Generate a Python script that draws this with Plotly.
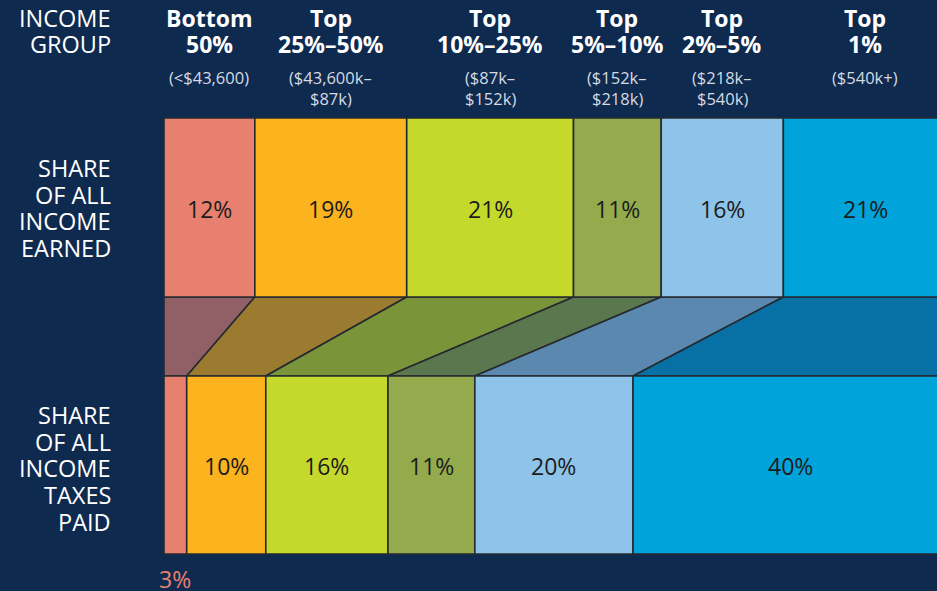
import plotly.graph_objects as go
import numpy as np

# ---- data ----
group_line1 = ["Bottom", "Top", "Top", "Top", "Top", "Top"]
group_line2 = ["50%", "25%–50%", "10%–25%", "5%–10%", "2%–5%", "1%"]
group_ranges = [["(<$43,600)"], ["($43,600k–", "$87k)"], ["($87k–", "$152k)"],
                ["($152k–", "$218k)"], ["($218k–", "$540k)"], ["($540k+)"]]
income_share = [11.6, 19.4, 21.3, 11.2, 15.6, 20.9]   # share of all income earned (%)
tax_share = [2.9, 10.1, 15.6, 11.1, 20.2, 40.1]       # share of all income taxes paid (%)
row_income_label = ["SHARE", "OF ALL", "INCOME", "EARNED"]
row_tax_label = ["SHARE", "OF ALL", "INCOME", "TAXES", "PAID"]
header_label = ["INCOME", "GROUP"]

# ---- style ----
BG = "#0F2A4F"
bar_colors = ["#E8806F", "#FBB31E", "#C5D92D", "#93AB4D", "#8EC4EA", "#00A3DA"]
link_colors = ["#916066", "#9A7B2F", "#7A943A", "#5B774D", "#5B88AE", "#0771A5"]
EDGE = "#262a30"
FONT = "Open Sans"

W, H = 937, 591
X0_PX, PX_PER_PCT = 164, 7.83
TOP_Y0, TOP_Y1 = 118, 297
BOT_Y0, BOT_Y1 = 376, 554

inc_cum = np.concatenate([[0], np.cumsum(income_share)])
tax_cum = np.concatenate([[0], np.cumsum(tax_share)])

fig = go.Figure()

def poly(xs, ys, color):
    fig.add_trace(go.Scatter(x=xs, y=ys, mode="lines", fill="toself", fillcolor=color,
                             line=dict(color=EDGE, width=1.6), hoverinfo="skip",
                             showlegend=False))

# connectors
for i in range(len(income_share)):
    xs = [inc_cum[i], inc_cum[i + 1], tax_cum[i + 1], tax_cum[i], inc_cum[i]]
    ys = [TOP_Y1, TOP_Y1, BOT_Y0, BOT_Y0, TOP_Y1]
    poly(xs, ys, link_colors[i])

# bars
for i in range(len(income_share)):
    a, b = inc_cum[i], inc_cum[i + 1]
    poly([a, b, b, a, a], [TOP_Y0, TOP_Y0, TOP_Y1, TOP_Y1, TOP_Y0], bar_colors[i])
    a, b = tax_cum[i], tax_cum[i + 1]
    poly([a, b, b, a, a], [BOT_Y0, BOT_Y0, BOT_Y1, BOT_Y1, BOT_Y0], bar_colors[i])

ann = []
def text(x, y, s, size, color, bold=False, xref="x", xanchor="center"):
    if bold:
        s = "<b>" + s + "</b>"
    ann.append(dict(x=x, y=y, xref=xref, yref="y", text=s, showarrow=False,
                    xanchor=xanchor, yanchor="middle", borderpad=0,
                    font=dict(family=FONT, size=size, color=color)))

# bar value labels
for i, v in enumerate(income_share):
    cx = (inc_cum[i] + inc_cum[i + 1]) / 2
    text(cx, (TOP_Y0 + TOP_Y1) / 2 + 1, f"{v:.0f}%", 23, "#1c1c1c")
for i, v in enumerate(tax_share):
    cx = (tax_cum[i] + tax_cum[i + 1]) / 2
    if v < 5:
        text(cx, 579, f"{v:.0f}%", 23, bar_colors[i])
    else:
        text(cx, (BOT_Y0 + BOT_Y1) / 2 + 1, f"{v:.0f}%", 23, "#1c1c1c")

# headers
for i in range(len(income_share)):
    cx = (inc_cum[i] + inc_cum[i + 1]) / 2
    text(cx, 18, group_line1[i], 23, "white", bold=True)
    text(cx, 44, group_line2[i], 23, "white", bold=True)
    for j, line in enumerate(group_ranges[i]):
        text(cx, 77 + 21 * j, line, 16.5, "#D5DAE2")

LX = 112 / W
for j, line in enumerate(header_label):
    text(LX, 18 + 26 * j, line, 23.5, "white", xref="paper", xanchor="right")
for j, line in enumerate(row_income_label):
    text(LX, 168 + 26.5 * j, line, 23.5, "white", xref="paper", xanchor="right")
for j, line in enumerate(row_tax_label):
    text(LX, 415 + 26.7 * j, line, 23.5, "white", xref="paper", xanchor="right")

fig.update_layout(
    width=W, height=H, paper_bgcolor=BG, plot_bgcolor=BG,
    margin=dict(l=0, r=0, t=0, b=0),
    xaxis=dict(range=[-X0_PX / PX_PER_PCT, (W - X0_PX) / PX_PER_PCT], visible=False, fixedrange=True),
    yaxis=dict(range=[H, 0], visible=False, fixedrange=True),
    annotations=ann, showlegend=False,
)
fig.write_html("out.html", config={"displayModeBar": False},
               post_script="document.body.style.margin='0';document.body.style.padding='0';"
                           "document.body.style.background='" + BG + "';"
                           "document.body.style.overflow='hidden';")
